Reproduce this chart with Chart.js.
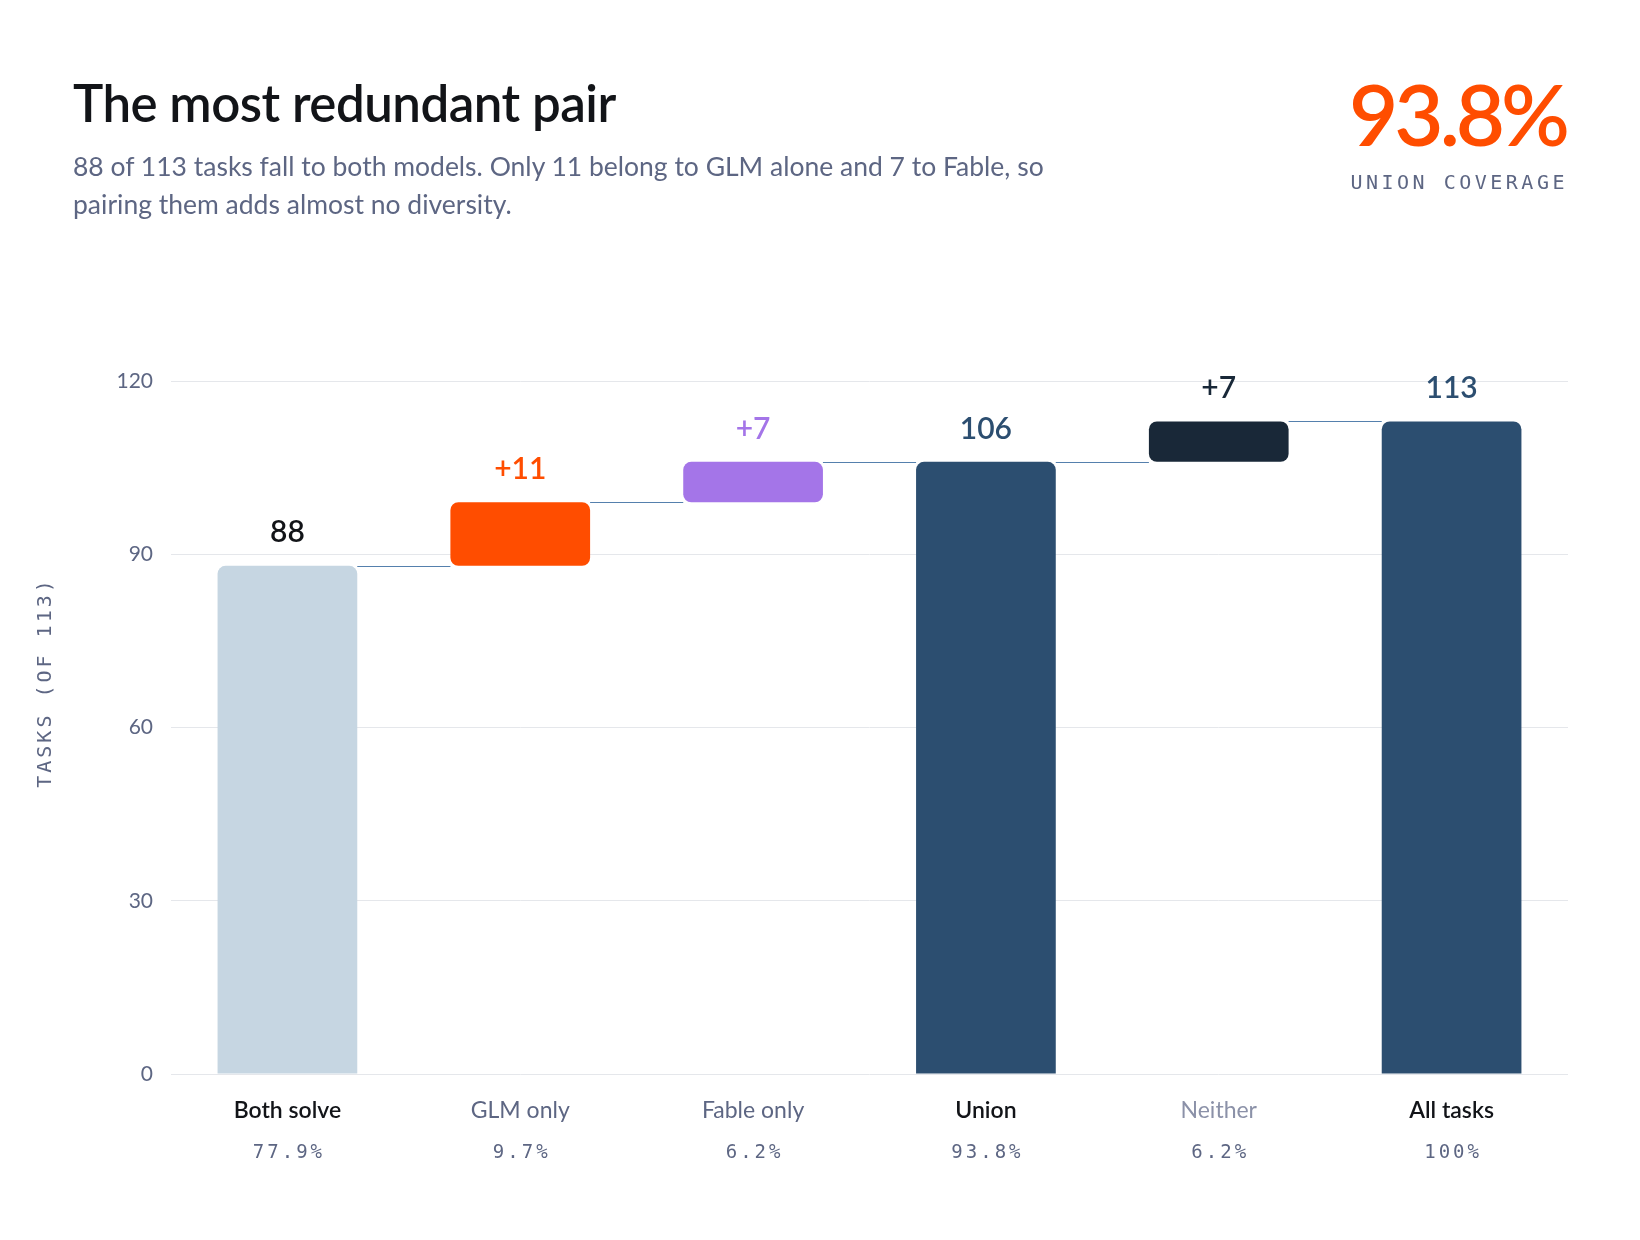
<!DOCTYPE html>
<html>
<head>
<meta charset="utf-8">
<script src="https://cdn.jsdelivr.net/npm/chart.js@4"></script>
<style>
  body { margin: 0; background: #fff; }
  #wrap { position: relative; width: 1640px; height: 1240px; overflow: hidden; font-family: Lato, "Noto Sans", sans-serif; }
  #chart { position: absolute; left: 0; top: 0; }
  .title { position: absolute; left: 73px; top: 78px; font-size: 51px; line-height: 50px; font-weight: 600; color: #121418; letter-spacing: -0.5px; }
  .subtitle { position: absolute; left: 73px; top: 147px; font-size: 26.5px; line-height: 38px; color: #5d6683; }
  .big { position: absolute; right: 74px; top: 71px; font-size: 85px; line-height: 85px; font-weight: 600; color: #ff4d00; letter-spacing: -4px; }
  .big-label { position: absolute; right: 72px; top: 172px; font-family: "DejaVu Sans Mono", monospace; font-size: 20px; line-height: 20px; letter-spacing: 3.5px; color: #5d6683; }
</style>
</head>
<body>
<div id="wrap">
  <canvas id="chart" width="1640" height="1240"></canvas>
  <div class="title">The most redundant pair</div>
  <div class="subtitle">88 of 113 tasks fall to both models. Only 11 belong to GLM alone and 7 to Fable, so<br>pairing them adds almost no diversity.</div>
  <div class="big">93.8%</div>
  <div class="big-label">UNION COVERAGE</div>
</div>
<script>
const categories = ['Both solve', 'GLM only', 'Fable only', 'Union', 'Neither', 'All tasks']
const barStart = [0, 88, 99, 0, 106, 0]
const barEnd = [88, 99, 106, 106, 113, 113]
const shareLabels = ['77.9%', '9.7%', '6.2%', '93.8%', '6.2%', '100%']
const yTicks = [0, 30, 60, 90, 120]

const barColors = ['#c6d6e2', '#ff4d00', '#a475e8', '#2c4e70', '#192838', '#2c4e70']
const valueColors = ['#121418', '#ff4d00', '#a475e8', '#2c4e70', '#192838', '#2c4e70']
const categoryColors = ['#121418', '#5d6683', '#5d6683', '#121418', '#8b91a8', '#121418']
const categoryWeights = ['600', '400', '400', '600', '400', '600']

const SANS = 'Lato, "Noto Sans", sans-serif'
const MONO = '"DejaVu Sans Mono", monospace'

// floating bars show the step, base bars show the total
const valueText = (i) => barStart[i] === 0 ? String(barEnd[i]) : '+' + (barEnd[i] - barStart[i])

const waterfallDecor = {
  id: 'waterfallDecor',
  afterDatasetsDraw(chart) {
    const ctx = chart.ctx
    const y = chart.scales.y
    const x = chart.scales.x
    const bars = chart.getDatasetMeta(0).data

    // connectors between neighbouring bars
    ctx.save()
    ctx.strokeStyle = '#5580ad'
    ctx.lineWidth = 1.2
    for (let i = 0; i < bars.length - 1; i++) {
      const level = Math.round(y.getPixelForValue(barEnd[i])) + 0.5
      const from = bars[i].x + bars[i].width / 2
      const to = bars[i + 1].x - bars[i + 1].width / 2
      ctx.beginPath()
      ctx.moveTo(from, level)
      ctx.lineTo(to, level)
      ctx.stroke()
    }
    ctx.restore()

    // value labels above bars
    ctx.save()
    ctx.textAlign = 'center'
    ctx.textBaseline = 'middle'
    ctx.font = '600 30px ' + SANS
    bars.forEach((bar, i) => {
      ctx.fillStyle = valueColors[i]
      ctx.fillText(valueText(i), bar.x, y.getPixelForValue(barEnd[i]) - 33)
    })
    ctx.restore()

    // two-line category labels
    ctx.save()
    ctx.textAlign = 'center'
    ctx.textBaseline = 'middle'
    categories.forEach((name, i) => {
      const cx = x.getPixelForValue(i)
      ctx.font = categoryWeights[i] + ' 23px ' + SANS
      ctx.fillStyle = categoryColors[i]
      ctx.letterSpacing = '0px'
      ctx.fillText(name, cx, chart.chartArea.bottom + 37)
      ctx.font = '19px ' + MONO
      ctx.fillStyle = '#5d6683'
      ctx.letterSpacing = '3px'
      ctx.fillText(shareLabels[i], cx + 1.5, chart.chartArea.bottom + 79)
    })
    ctx.restore()

    // rotated axis title
    ctx.save()
    ctx.translate(46, 684)
    ctx.rotate(-Math.PI / 2)
    ctx.textAlign = 'center'
    ctx.textBaseline = 'middle'
    ctx.font = '20px ' + MONO
    ctx.letterSpacing = '3px'
    ctx.fillStyle = '#5d6683'
    ctx.fillText('TASKS (OF 113)', 1.5, 0)
    ctx.restore()
  }
}

new Chart(document.getElementById('chart'), {
  type: 'bar',
  data: {
    labels: categories,
    datasets: [{
      data: barStart.map((s, i) => [s, barEnd[i]]),
      backgroundColor: barColors,
      borderRadius: 8,
      borderSkipped: barStart.map(s => s === 0 ? 'start' : false),
      barPercentage: 0.6,
      categoryPercentage: 1
    }]
  },
  options: {
    responsive: false,
    animation: false,
    layout: {
      padding: { top: 381, right: 72, bottom: 158, left: 0 }
    },
    plugins: {
      legend: { display: false },
      tooltip: { enabled: false }
    },
    scales: {
      x: {
        grid: { display: false },
        border: { display: false },
        ticks: { display: false }
      },
      y: {
        min: 0,
        max: 120,
        afterFit: (scale) => { scale.width = 171 },
        afterBuildTicks: (scale) => { scale.ticks = yTicks.map(v => ({ value: v })) },
        grid: { color: '#e5e7eb', lineWidth: 1, drawTicks: false },
        border: { display: false },
        ticks: {
          padding: 18,
          color: '#5d6683',
          font: { family: SANS, size: 21 }
        }
      }
    }
  },
  plugins: [waterfallDecor]
})
</script>
</body>
</html>
